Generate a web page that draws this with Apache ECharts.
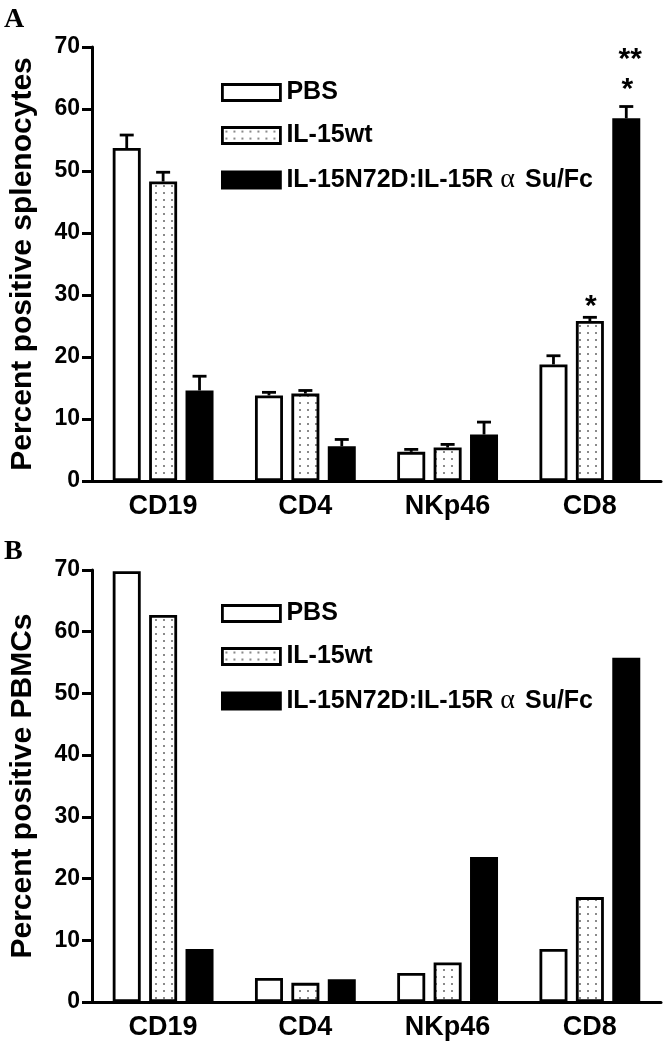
<!DOCTYPE html>
<html>
<head>
<meta charset="utf-8">
<script src="https://cdn.jsdelivr.net/npm/echarts@6/dist/echarts.min.js"></script>
<style>
html,body{margin:0;padding:0;background:#fff;}
#chart{width:666px;height:1050px;}
</style>
</head>
<body>
<div id="chart"></div>
<script>
// ---- data ----
const categories = ['CD19', 'CD4', 'NKp46', 'CD8'];
const seriesNames = ['PBS', 'IL-15wt', 'IL-15N72D:IL-15R α Su/Fc'];
const yTicks = [0, 10, 20, 30, 40, 50, 60, 70];

// Panel A: splenocytes (mean, SEM)
const pbsA = [53.7, 13.8, 4.7, 18.8];
const wtA = [48.3, 14.1, 5.4, 25.8];
const fcA = [14.6, 5.6, 7.5, 58.5];
const pbsErrA = [2.1, 0.5, 0.4, 1.4];
const wtErrA = [1.5, 0.5, 0.5, 0.6];
const fcErrA = [2.3, 1.1, 2.0, 1.9];
// significance marks: [category index, series index, text, line (0 = nearest bar)]
const sigA = [[3, 1, '*', 0], [3, 2, '*', 0], [3, 2, '**', 1]];

// Panel B: PBMCs (pooled, no error bars)
const pbsB = [69.8, 3.9, 4.7, 8.6];
const wtB = [62.7, 3.1, 6.4, 17.0];
const fcB = [8.6, 3.7, 23.5, 55.8];

// ---- styles ----
const FONT = "'Liberation Sans', Arial, sans-serif";
const BAR_W = 28;
const BAR_GAP = 0.3;
const STEP = BAR_W * (1 + BAR_GAP);

function dotPattern() {
  const c = document.createElement('canvas');
  c.width = 8; c.height = 7;
  const ctx = c.getContext('2d');
  ctx.fillStyle = '#fff';
  ctx.fillRect(0, 0, 8, 7);
  ctx.fillStyle = '#8a8a8a';
  ctx.fillRect(3, 3, 2, 2);
  return c;
}
const dots = { image: dotPattern(), repeat: 'repeat' };
const fills = ['#ffffff', dots, '#000000'];

const chart = echarts.init(document.getElementById('chart'), null, { renderer: 'canvas' });

function barSeries(name, data, idx, axisIdx) {
  return {
    type: 'bar', name: name, data: data,
    xAxisIndex: axisIdx, yAxisIndex: axisIdx,
    barWidth: BAR_W, barGap: (BAR_GAP * 100) + '%',
    itemStyle: { color: fills[idx], borderColor: '#000', borderWidth: 2.8 },
    silent: true, animation: false
  };
}

function errData(means, errs) {
  const out = [];
  means.forEach((m, si) => {
    m.forEach((v, ci) => out.push([ci, v, errs[si][ci], si]));
  });
  return out;
}

const errSeries = {
  type: 'custom', xAxisIndex: 0, yAxisIndex: 0, silent: true, animation: false,
  data: errData([pbsA, wtA, fcA], [pbsErrA, wtErrA, fcErrA]),
  renderItem: function (params, api) {
    const base = api.coord([api.value(0), api.value(1)]);
    const top = api.coord([api.value(0), api.value(1) + api.value(2)]);
    const x = base[0] + (api.value(3) - 1) * STEP;
    const st = { stroke: '#000', lineWidth: 2.8 };
    return {
      type: 'group', children: [
        { type: 'line', shape: { x1: x, y1: base[1], x2: x, y2: top[1] }, style: st },
        { type: 'line', shape: { x1: x - 7, y1: top[1], x2: x + 7, y2: top[1] }, style: st }
      ]
    };
  }
};

const meansA = [pbsA, wtA, fcA], errsA = [pbsErrA, wtErrA, fcErrA];
const sigSeries = {
  type: 'custom', xAxisIndex: 0, yAxisIndex: 0, silent: true, animation: false,
  data: sigA.map(s => [s[0], meansA[s[1]][s[0]] + errsA[s[1]][s[0]], s[1], s[3], s[2]]),
  renderItem: function (params, api) {
    const p = api.coord([api.value(0), api.value(1)]);
    const x = p[0] + (api.value(2) - 1) * STEP;
    const line = api.value(3);
    const txt = sigA[params.dataIndex][2];
    const y = p[1] + (api.value(2) === 1 ? 4 : -2) - line * 30;
    return {
      type: 'text',
      style: { text: txt, x: x + (txt.length > 1 ? 4 : 1), y: y, textAlign: 'center', textVerticalAlign: 'bottom',
        font: 'bold 30px ' + FONT, fill: '#000' }
    };
  }
};

function xAxis(gi) {
  return {
    type: 'category', gridIndex: gi, data: categories,
    axisLine: { lineStyle: { color: '#000', width: 3 } },
    axisTick: { alignWithLabel: true, length: 10, lineStyle: { color: '#000', width: 3 } },
    axisLabel: { color: '#000', fontSize: 27, fontWeight: 'bold', fontFamily: FONT, margin: 12 }
  };
}
function yAxis(gi, name) {
  return {
    type: 'value', gridIndex: gi, min: yTicks[0], max: yTicks[yTicks.length - 1], interval: 10,
    name: name, nameLocation: 'middle', nameGap: 54,
    nameTextStyle: { color: '#000', fontSize: 30, fontWeight: 'bold', fontFamily: FONT },
    axisLine: { show: true, lineStyle: { color: '#000', width: 3 } },
    axisTick: { show: true, length: 10, lineStyle: { color: '#000', width: 3 } },
    axisLabel: { color: '#000', fontSize: 23, fontWeight: 'bold', fontFamily: FONT, margin: 12 },
    splitLine: { show: false }
  };
}
function legend(top) {
  return {
    orient: 'vertical', left: 216, top: top, icon: 'rect',
    itemWidth: 58, itemHeight: 16, itemGap: 18, selectedMode: false,
    data: seriesNames.map(n => ({ name: n, itemStyle: { borderColor: '#000', borderWidth: 2.8 } })),
    formatter: n => n.replace('α', '{g|α}'),
    textStyle: { color: '#000', fontSize: 25, fontWeight: 'bold', fontFamily: FONT, padding: [0, 0, 0, 1],
      rich: { g: { fontFamily: "'Liberation Serif', serif", fontSize: 28, fontWeight: 'normal', color: '#000', padding: [0, 3, 0, 0] } } }
  };
}

chart.setOption({
  animation: false,
  backgroundColor: '#fff',
  grid: [
    { left: 88, right: 5, top: 47, height: 434 },
    { left: 88, right: 5, top: 570, height: 432 }
  ],
  xAxis: [xAxis(0), xAxis(1)],
  yAxis: [yAxis(0, 'Percent positive splenocytes'), yAxis(1, 'Percent positive PBMCs')],
  legend: [legend(75), legend(596)],
  graphic: [
    { type: 'text', left: 4, top: 6, style: { text: 'A', font: "bold 28px 'Liberation Serif', serif", fill: '#000' } },
    { type: 'text', left: 4, top: 538, style: { text: 'B', font: "bold 28px 'Liberation Serif', serif", fill: '#000' } }
  ],
  series: [
    barSeries(seriesNames[0], pbsA, 0, 0),
    barSeries(seriesNames[1], wtA, 1, 0),
    barSeries(seriesNames[2], fcA, 2, 0),
    errSeries,
    sigSeries,
    barSeries(seriesNames[0], pbsB, 0, 1),
    barSeries(seriesNames[1], wtB, 1, 1),
    barSeries(seriesNames[2], fcB, 2, 1)
  ]
});
</script>
</body>
</html>
